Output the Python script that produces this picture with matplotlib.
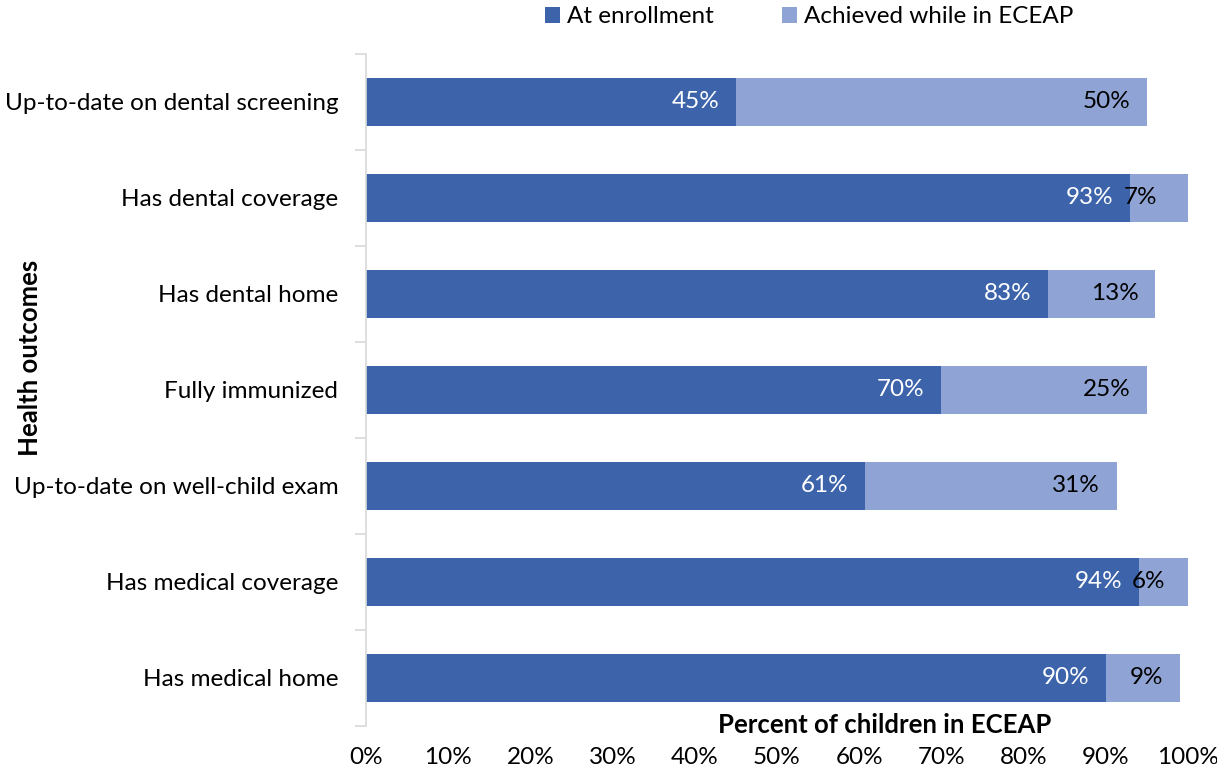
import numpy as np
import matplotlib
matplotlib.use("Agg")
import matplotlib.pyplot as plt
from matplotlib.ticker import FixedLocator, PercentFormatter

plt.rcParams['font.family'] = ['Lato', 'DejaVu Sans']

# data, top to bottom as in the chart
categories = ["Up-to-date on dental screening", "Has dental coverage", "Has dental home",
              "Fully immunized", "Up-to-date on well-child exam", "Has medical coverage",
              "Has medical home"]
at_enrollment = [45, 93, 83, 70, 60.7, 94, 90]
achieved = [50, 7, 13, 25, 30.6, 6, 9]
series_names = ["At enrollment", "Achieved while in ECEAP"]

dark = "#3D64AB"
light = "#8FA4D4"
grid_gray = "#D9D9D9"
fs = 17.5

fig = plt.figure(figsize=(12.17, 7.72), dpi=100)
ax = fig.add_axes([0.3007, 0.0596, 0.6755, 0.8705])

y = np.arange(len(categories))[::-1]
b1 = ax.barh(y, at_enrollment, height=0.5, color=dark, label=series_names[0])
b2 = ax.barh(y, achieved, left=at_enrollment, height=0.5, color=light, label=series_names[1])

# labels: inside end
for yi, a, b in zip(y, at_enrollment, achieved):
    ax.annotate(f"{a:.0f}%", (a, yi), xytext=(-12, 0), textcoords="offset points",
                ha="right", va="center", color="white", fontsize=fs)
    if b < 8:
        ax.annotate(f"{b:.0f}%", (a, yi), xytext=(-5, 0), textcoords="offset points",
                    ha="left", va="center", color="black", fontsize=fs)
    else:
        ax.annotate(f"{b:.0f}%", (a + b, yi), xytext=(-12, 0), textcoords="offset points",
                    ha="right", va="center", color="black", fontsize=fs)

ax.set_xlim(0, 100)
ax.set_ylim(-0.5, len(categories) - 0.5)
ax.set_xticks(np.arange(0, 101, 10))
ax.xaxis.set_major_formatter(PercentFormatter(decimals=0))
ax.tick_params(axis="x", length=0, pad=15, labelsize=fs)

ax.set_yticks(y)
ax.set_yticklabels(categories, fontsize=fs)
ax.yaxis.set_minor_locator(FixedLocator(np.arange(-0.5, len(categories), 1.0)))
ax.tick_params(axis="y", which="major", length=0, pad=20)
ax.tick_params(axis="y", which="minor", length=8, color=grid_gray, width=1.2)

for s in ["top", "right", "bottom"]:
    ax.spines[s].set_visible(False)
ax.spines["left"].set_color(grid_gray)
ax.spines["left"].set_linewidth(1.2)

fig.text(0.727, 0.061, "Percent of children in ECEAP", ha="center", va="center",
         fontsize=18.5, fontweight="bold")
fig.text(0.025, 0.537, "Health outcomes", ha="center", va="center", rotation=90,
         fontsize=18.5, fontweight="bold")

fig.legend(handles=[b1, b2], loc="center", bbox_to_anchor=(0.665, 0.978), ncol=2,
           frameon=False, fontsize=fs, handlelength=0.6, handleheight=0.6,
           handletextpad=0.3, columnspacing=2.8)

fig.savefig("out.png", dpi=100)
